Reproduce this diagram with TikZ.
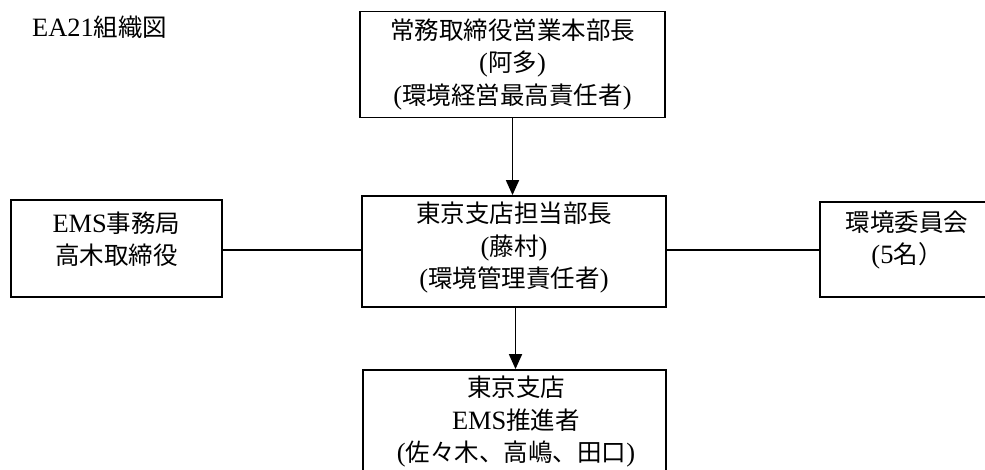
\documentclass[tikz,border=0pt]{standalone}
\usepackage{fontspec}
\setmainfont{Liberation Serif}[Scale=1.08]
\newfontfamily\jpfont{Noto Sans CJK JP}
\newcommand\jtext[1]{{\jpfont #1}}
\usetikzlibrary{arrows.meta}
\begin{document}
\begin{tikzpicture}[x=1pt,y=-1pt,
  box/.style={draw,line width=1.8pt,inner sep=0pt},
  txt/.style={align=center,inner sep=0pt,font=\fontsize{24.5}{32.5}\selectfont},
  link/.style={line width=1.8pt},
  arr/.style={line width=1.8pt,-{Triangle[width=13pt,length=15pt]}}]
\path[use as bounding box,clip] (0,0) rectangle (985,470);
\node[txt,anchor=west] (title) at (32,27) {EA21\jtext{組織図}};
% top box
\node[box,txt,minimum width=305pt,minimum height=106pt] (ceo) at (512.5,64.5)
  {\jtext{常務取締役営業本部長}\\(\jtext{阿多})\\(\jtext{環境経営最高責任者})};
% center box
\node[box,minimum width=304pt,minimum height=111pt] (mgr) at (514,251.5) {};
\node[txt] (mgrt) at (514,248) {\jtext{東京支店担当部長}\\(\jtext{藤村})\\(\jtext{環境管理責任者})};
% left box
\node[box,minimum width=211pt,minimum height=97pt] (ems) at (116.5,248.5) {};
\node[txt] (emst) at (116.5,239) {EMS\jtext{事務局}\\\jtext{高木取締役}};
% right box
\node[box,minimum width=174pt,minimum height=95pt] (com) at (907,249.5) {};
\node[txt] (comt) at (907,240) {\jtext{環境委員会}\\(5\jtext{名）}};
% bottom box
\node[box,minimum width=303pt,minimum height=130pt] (staff) at (514.5,435) {};
\node[txt] (stafft) at (516,422) {\jtext{東京支店}\\EMS\jtext{推進者}\\(\jtext{佐々木、高嶋、田口})};
% connectors
\draw[arr] (ceo.south) -- (ceo.south |- mgr.north);
\draw[arr] ([xshift=1.5pt]mgr.south) -- ([xshift=1.5pt]mgr.south |- staff.north);
\draw[link] (ems.east |- 0,250) -- (mgr.west |- 0,250);
\draw[link] (mgr.east |- 0,250) -- (com.west |- 0,250);
\end{tikzpicture}
\end{document}
